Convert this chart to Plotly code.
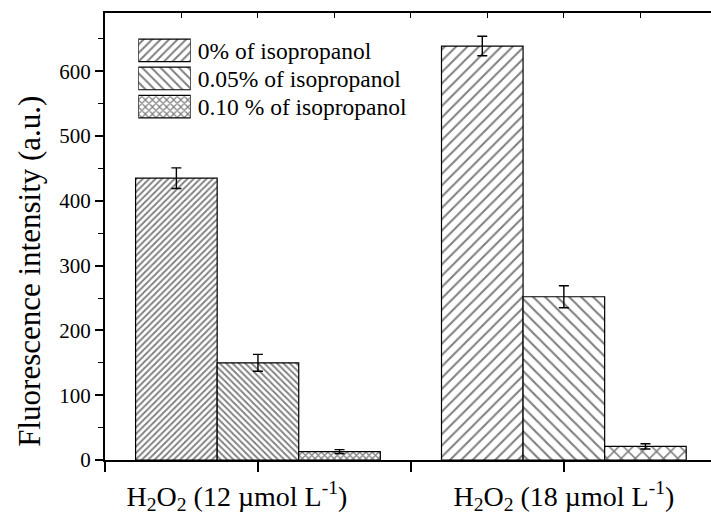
import plotly.graph_objects as go

# ---- data ----
categories = ["H<sub>2</sub>O<sub>2</sub> (12 µmol L<sup>-1</sup>)",
              "H<sub>2</sub>O<sub>2</sub> (18 µmol L<sup>-1</sup>)"]
cat_pos = [1, 2]
series_names = ["0% of isopropanol", "0.05% of isopropanol", "0.10 % of isopropanol"]
val_0 = [435, 639]
err_0 = [16, 15]
val_005 = [150, 252]
err_005 = [13, 17]
val_010 = [13, 21]
err_010 = [3, 4]
y_ticks = [0, 100, 200, 300, 400, 500, 600]
y_title = "Fluorescence intensity (a.u.)"

series_vals = [val_0, val_005, val_010]
series_errs = [err_0, err_005, err_010]
shapes_ = ["/", "\\", "x"]
sizes_ = [[4.5, 8], [4.5, 8.5], [4.5, 10]]
solid_ = [[0.4, 0.25], [0.4, 0.25], [0.5, 0.28]]

FONT = "Liberation Serif, Times New Roman, serif"

fig = go.Figure()
for name, v, e, sh, sz, so in zip(series_names, series_vals, series_errs, shapes_, sizes_, solid_):
    fig.add_trace(go.Bar(
        x=cat_pos, y=v, name=name, showlegend=False,
        marker=dict(color="white", line=dict(color="black", width=1.2),
                    pattern=dict(shape=sh, size=sz, solidity=so,
                                 fgcolor="black", bgcolor="white", fillmode="overlay")),
        error_y=dict(type="data", array=e, visible=True, color="black", thickness=1.4, width=5),
        xaxis="x", yaxis="y",
    ))

# legend swatches drawn as one horizontal bar trace on its own small axes
fig.add_trace(go.Bar(
    y=series_names, x=[1, 1, 1], orientation="h", showlegend=False, hoverinfo="skip",
    marker=dict(color="white", line=dict(color="black", width=1.2),
                pattern=dict(shape=shapes_, size=[6, 6.5, 5], solidity=[0.32, 0.3, 0.45],
                             fgcolor="black", bgcolor="white", fillmode="overlay")),
    xaxis="x3", yaxis="y3",
))

pad = "\u00a0" * 6
fig.update_layout(
    width=711, height=515,
    margin=dict(l=105, r=0, t=13, b=48),
    plot_bgcolor="white", paper_bgcolor="white",
    barmode="group", bargap=0.2, bargroupgap=0,
    font=dict(family=FONT, color="black"),
    xaxis=dict(
        range=[0.5, 2.481], tickmode="array",
        tickvals=[0.5, 1, 1.5, 2, 2.5], ticktext=["", categories[0] + pad, "", categories[1], ""],
        ticks="outside", ticklen=10, tickwidth=1.5, tickcolor="black",
        showline=True, linecolor="black", linewidth=2, showgrid=False, zeroline=False,
        tickfont=dict(size=28, family=FONT),
    ),
    xaxis2=dict(
        overlaying="x", side="top", range=[0.5, 2.481], tick0=0.5, dtick=0.25,
        ticks="inside", ticklen=5, tickwidth=1, tickcolor="black", showticklabels=False,
        showline=True, linecolor="black", linewidth=2, showgrid=False, zeroline=False,
        anchor="y",
    ),
    yaxis=dict(
        range=[0, 690], tickmode="array", tickvals=y_ticks,
        ticks="outside", ticklen=8, tickwidth=1.5, tickcolor="black",
        minor=dict(dtick=50, ticks="outside", ticklen=5, tickwidth=1.2, tickcolor="black"),
        showline=True, linecolor="black", linewidth=2, showgrid=False, zeroline=False,
        tickfont=dict(size=21, family=FONT),
    ),
    xaxis3=dict(domain=[0.055, 0.1414], range=[0, 1], anchor="y3", visible=False, fixedrange=True),
    yaxis3=dict(domain=[0.759, 0.948], anchor="x3", side="right", autorange="reversed",
                showline=False, showgrid=False, zeroline=False, ticks="",
                tickfont=dict(size=23.5, family=FONT), ticklabelstandoff=6, fixedrange=True),
    annotations=[dict(text=y_title, textangle=-90, xref="paper", yref="paper",
                      x=-0.124, y=0.423, xanchor="center", yanchor="middle",
                      showarrow=False, font=dict(size=31, family=FONT))],
)
# dummy trace so xaxis2 is drawn
fig.add_trace(go.Scatter(x=[1], y=[None], xaxis="x2", yaxis="y", showlegend=False, hoverinfo="skip"))

fig.write_html("out.html")
